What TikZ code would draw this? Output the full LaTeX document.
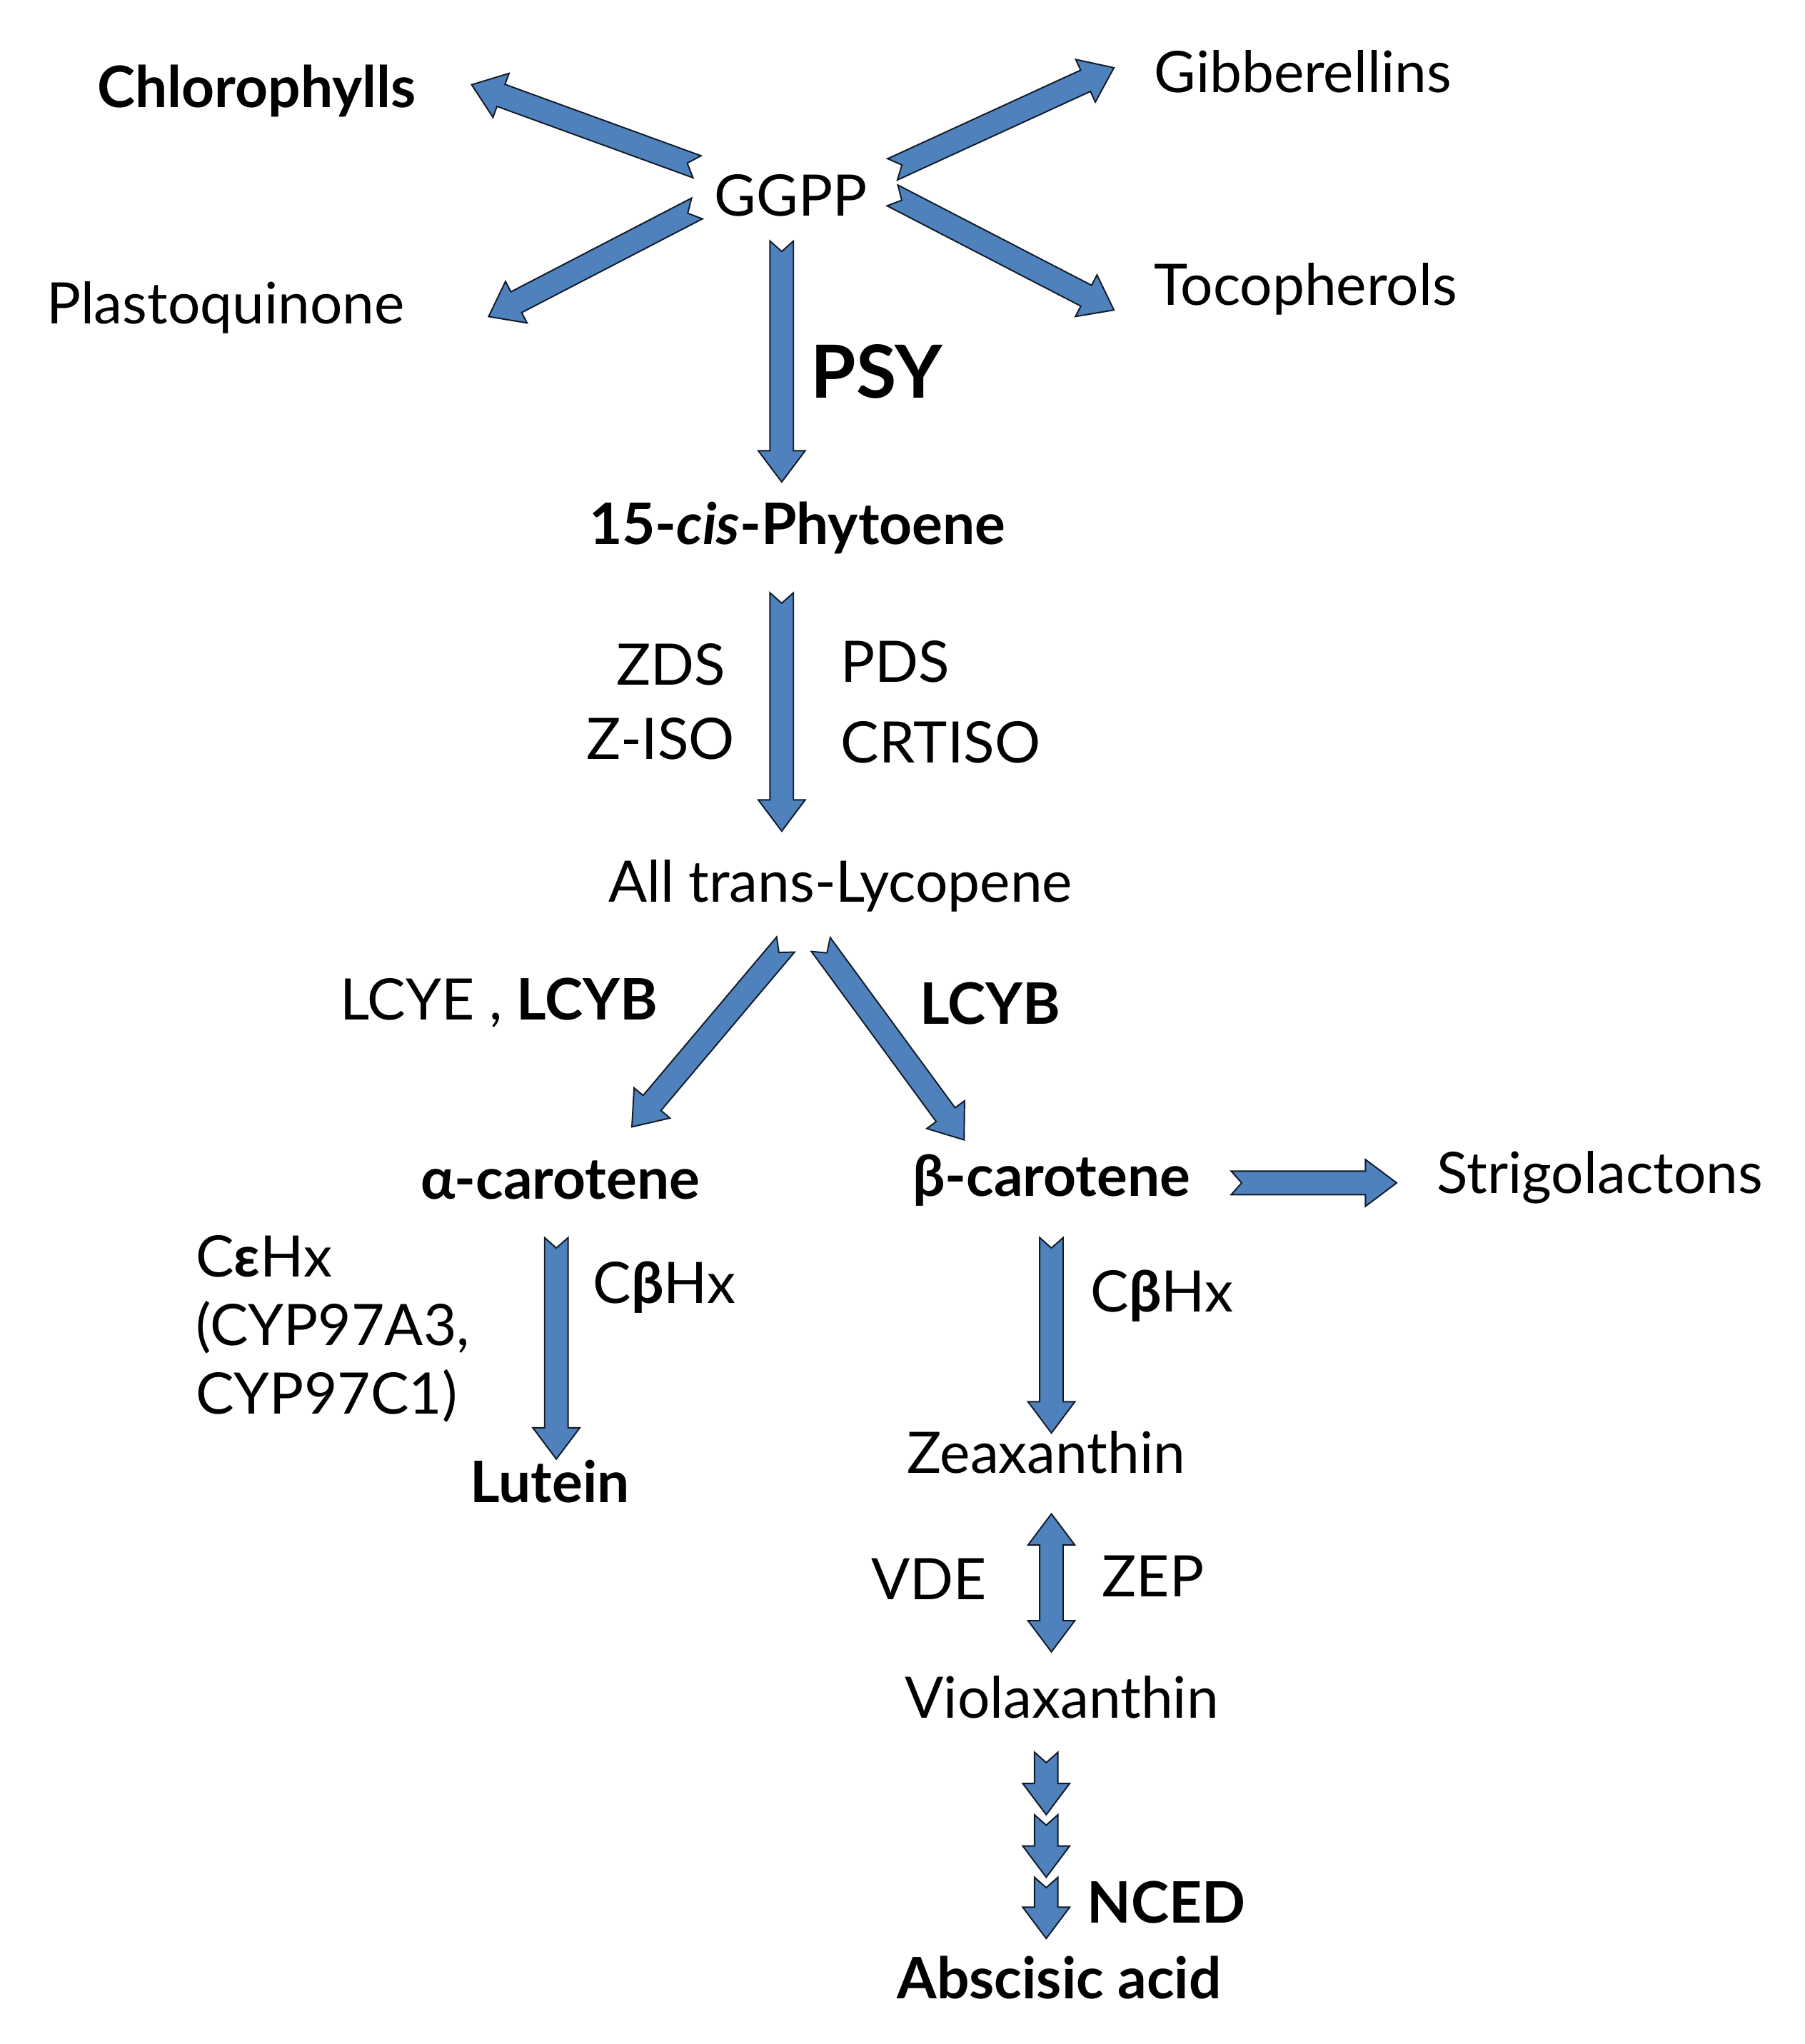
\documentclass[tikz,border=0pt]{standalone}
\usepackage{fontspec}
\setmainfont{Lato}
\usetikzlibrary{calc}
\definecolor{ab}{HTML}{4F81BD}
\tikzset{
  t/.style={font=\fontsize{25}{30}\selectfont, inner sep=0pt},
  tb/.style={t, font=\fontsize{25}{30}\selectfont\bfseries},
  blk/.style={fill=ab, draw=black!80!ab, line width=0.6pt, line join=miter}
}
\newcommand\barrow[2]{%
  \coordinate (bnk) at ($(#2)!0.48cm!(#1)$);
  \filldraw[blk] ($(#1)!0.18cm!-90:(#2)$) -- ($(#1)!0.16cm!(#2)$) -- ($(#1)!0.18cm!90:(#2)$)
    -- ($(bnk)!0.18cm!-90:(#1)$) -- ($(bnk)!0.36cm!-90:(#1)$) -- (#2)
    -- ($(bnk)!0.36cm!90:(#1)$) -- ($(bnk)!0.18cm!90:(#1)$) -- cycle;}
\newcommand\dbarrow[2]{%
  \coordinate (bnk) at ($(#2)!0.48cm!(#1)$);
  \coordinate (bnt) at ($(#1)!0.48cm!(#2)$);
  \filldraw[blk] (#1) -- ($(bnt)!0.36cm!90:(#2)$) -- ($(bnt)!0.18cm!90:(#2)$)
    -- ($(bnk)!0.18cm!-90:(#1)$) -- ($(bnk)!0.36cm!-90:(#1)$) -- (#2)
    -- ($(bnk)!0.36cm!90:(#1)$) -- ($(bnk)!0.18cm!90:(#1)$)
    -- ($(bnt)!0.18cm!-90:(#2)$) -- ($(bnt)!0.36cm!-90:(#2)$) -- cycle;}
\begin{document}
\begin{tikzpicture}[x=0.02cm,y=-0.02cm]
\useasboundingbox (0,0) rectangle (1385,1569);
\node[tb] (chl) at (197,70) {Chlorophylls};
\node[t] (gib) at (1000,55) {Gibberellins};
\node[t] (ggpp) at (607,150) {GGPP};
\node[t] (pq) at (173,236) {Plastoquinone};
\node[t] (toc) at (1002,222) {Tocopherols};
\node[t, font=\fontsize{32}{36}\selectfont\bfseries] (psy) at (673,285) {PSY};
\node[tb] (phy) at (612,405) {15-\textit{cis}-Phytoene};
\node[t] (zds) at (515,510) {ZDS};
\node[t] (ziso) at (507,567) {Z-ISO};
\node[t] (pds) at (687,508) {PDS};
\node[t] (crt) at (722,570) {CRTISO};
\node[t] (lyc) at (645,680) {All trans-Lycopene};
\node[t] (lcye) at (383,770) {LCYE , \textbf{LCYB}};
\node[tb] (lcyb) at (760,770) {LCYB};
\node[tb] (alc) at (430,906) {α-carotene};
\node[tb] (bec) at (807,906) {β-carotene};
\node[t] (str) at (1228,904) {Strigolactons};
\node[t, anchor=west, align=left] (ceh) at (150,1020) {C\textbf{ε}Hx\\(CYP97A3,\\CYP97C1)};
\node[t] (cbh1) at (510,988) {C\textbf{β}Hx};
\node[tb] (lut) at (422,1137) {Lutein};
\node[t] (cbh2) at (892,995) {C\textbf{β}Hx};
\node[t] (zea) at (803,1115) {Zeaxanthin};
\node[t] (vde) at (713,1212) {VDE};
\node[t] (zep) at (885,1210) {ZEP};
\node[t] (vio) at (815,1303) {Violaxanthin};
\node[tb] (nced) at (895,1460) {NCED};
\node[tb] (aba) at (813,1518) {Abscisic acid};

\coordinate (a1s) at (535,128); \coordinate (a1e) at (362,65);
\coordinate (a2s) at (685,130); \coordinate (a2e) at (855,52);
\coordinate (a3s) at (535,160); \coordinate (a3e) at (375,243);
\coordinate (a4s) at (685,150); \coordinate (a4e) at (855,238);
\coordinate (a5s) at (600,185); \coordinate (a5e) at (600,370);
\coordinate (a6s) at (600,455); \coordinate (a6e) at (600,638);
\coordinate (a7s) at (603,725); \coordinate (a7e) at (485,865);
\coordinate (a8s) at (630,725); \coordinate (a8e) at (740,875);
\coordinate (a9s) at (945,908); \coordinate (a9e) at (1072,908);
\coordinate (a10s) at (427,950); \coordinate (a10e) at (427,1120);
\coordinate (a11s) at (807,950); \coordinate (a11e) at (807,1100);
\coordinate (a12s) at (807,1162); \coordinate (a12e) at (807,1268);
\coordinate (n1) at (803,1345); \coordinate (n2) at (803,1393);
\coordinate (n3) at (803,1441); \coordinate (n4) at (803,1488);
\barrow{a1s}{a1e}\barrow{a2s}{a2e}\barrow{a3s}{a3e}\barrow{a4s}{a4e}
\barrow{a5s}{a5e}\barrow{a6s}{a6e}\barrow{a7s}{a7e}\barrow{a8s}{a8e}
\barrow{a9s}{a9e}\barrow{a10s}{a10e}\barrow{a11s}{a11e}
\dbarrow{a12s}{a12e}
\barrow{n1}{n2}\barrow{n2}{n3}\barrow{n3}{n4}
\end{tikzpicture}
\end{document}
